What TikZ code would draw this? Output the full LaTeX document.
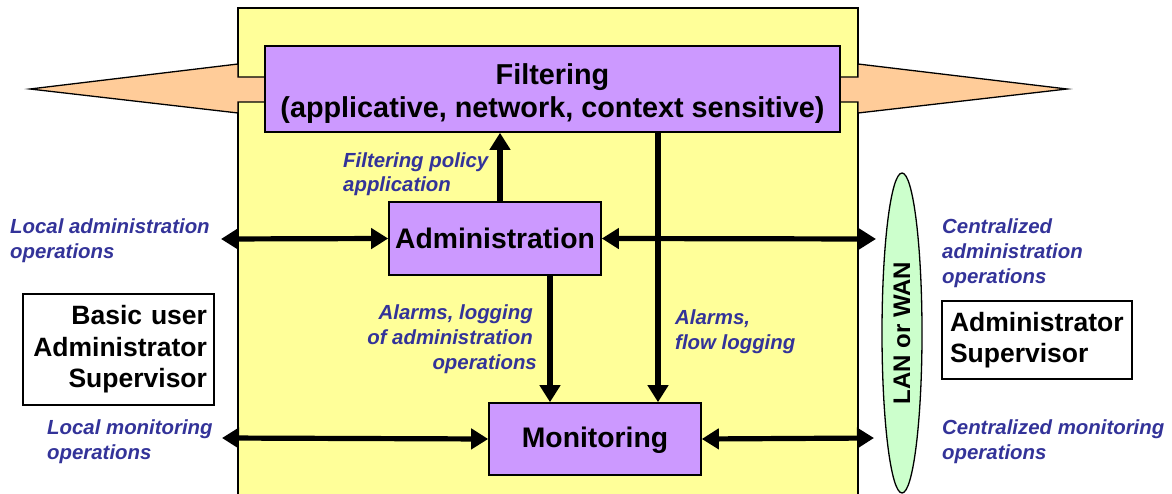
\documentclass[tikz,border=0pt]{standalone}
\usepackage{fontspec}
\setmainfont{Liberation Sans}
\usetikzlibrary{arrows.meta,shapes.geometric,calc}
\definecolor{yel}{HTML}{FFFF99}
\definecolor{lil}{HTML}{CC99FF}
\definecolor{org}{HTML}{FFCC99}
\definecolor{grn}{HTML}{CCFFCC}
\definecolor{lblc}{HTML}{333399}
\newcommand\lblfont{\fontsize{20.4}{25}\selectfont\bfseries\itshape}
\newcommand\usrfont{\fontsize{26.5}{31.5}\selectfont\bfseries}
\newcommand\boxfont{\fontsize{28.3}{33}\selectfont\bfseries}
\tikzset{
  box/.style={draw, line width=1.6pt, fill=lil, inner sep=0pt, font=\boxfont, align=center},
  usrbox/.style={draw, line width=1.3pt, fill=white, inner sep=0pt, font=\usrfont},
  lbl/.style={text=lblc, font=\lblfont, inner sep=0pt},
  arr/.style={line width=5.2pt, -{Triangle[length=17pt,width=20pt]}},
  darr/.style={line width=5.2pt, {Triangle[length=17pt,width=20pt]}-{Triangle[length=17pt,width=20pt]}},
  outl/.style={draw, line width=1.3pt, line join=miter}
}
\begin{document}
\begin{tikzpicture}[x=1pt,y=-1pt]
\useasboundingbox (0,0) rectangle (1172,494);
% yellow frame
\fill[yel] (238,8) rectangle (858,500);
\draw[outl] (238,500) -- (238,8) -- (858,8) -- (858,500);
% orange arrows
\draw[outl, fill=org] (30,89) -- (238,64) -- (238,77) -- (265,77) -- (265,102) -- (238,102) -- (238,113) -- cycle;
\draw[outl, fill=org] (1067,89) -- (858,64) -- (858,77) -- (840,77) -- (840,102) -- (858,102) -- (858,113) -- cycle;
% main boxes
\node[box, minimum width=575pt, minimum height=86pt, font=\fontsize{28.8}{33}\selectfont\bfseries] (filt) at (552.5,89) {\rule{0pt}{29pt}Filtering\\(applicative, network, context sensitive)};
\node[box, minimum width=212pt, minimum height=73pt] (admin) at (495,238.5) {Administration};
\node[box, minimum width=212pt, minimum height=72pt] (mon) at (595,439) {\rule{0pt}{23pt}Monitoring};
% network ellipse
\node[ellipse, draw, line width=1.3pt, fill=grn, minimum width=40pt, minimum height=320pt, inner sep=0pt] (net) at (902,333) {};
\node[rotate=90, font=\fontsize{24}{28}\selectfont\bfseries, inner sep=0pt] (netlbl) at (902,333) {LAN or WAN};
% user boxes
\node[usrbox, minimum width=191pt, minimum height=111pt, text width=177pt, align=right] (locusr) at (118.5,349.5) {Basic user\\Administrator\\Supervisor};
\node[usrbox, minimum width=190pt, minimum height=78pt, text width=174pt, align=left] (remusr) at (1037,340) {Administrator\\Supervisor};
% end points
\coordinate (la) at (221,239);
\coordinate (ra) at (876,239);
\coordinate (lm) at (222,438);
\coordinate (rm) at (874,438);
% connectors
\draw[darr] (la) -- (admin.west);
\draw[darr] (admin.east) -- (ra);
\draw[darr] (lm) -- (mon.west);
\draw[darr] (mon.east) -- (rm);
\draw[arr] ([xshift=5pt]admin.north) -- ([xshift=5pt]admin.north |- filt.south);
\draw[arr] ([xshift=55pt]admin.south) -- ([xshift=55pt]admin.south |- mon.north);
\draw[arr] ([xshift=105.5pt]filt.south) -- ([xshift=105.5pt]filt.south |- mon.north);
% labels
\node[lbl, anchor=west, align=left] (l1) at (10,240.5) {Local administration\\operations};
\node[lbl, anchor=west, align=left] (l2) at (47,441.5) {Local monitoring\\operations};
\node[lbl, anchor=west, align=left, font=\fontsize{20.4}{23.5}\selectfont\bfseries\itshape] (l3) at (343,174) {Filtering policy\\application};
\node[lbl, anchor=east, align=right] (l4) at (533,339) {Alarms, logging\\of administration\\operations\kern-4pt};
\node[lbl, anchor=west, align=left] (l5) at (675,331.5) {Alarms,\\flow logging};
\node[lbl, anchor=west, align=left] (l6) at (942,253) {Centralized\\administration\\operations};
\node[lbl, anchor=west, align=left] (l7) at (942,441.5) {Centralized monitoring\\operations};
\end{tikzpicture}
\end{document}
